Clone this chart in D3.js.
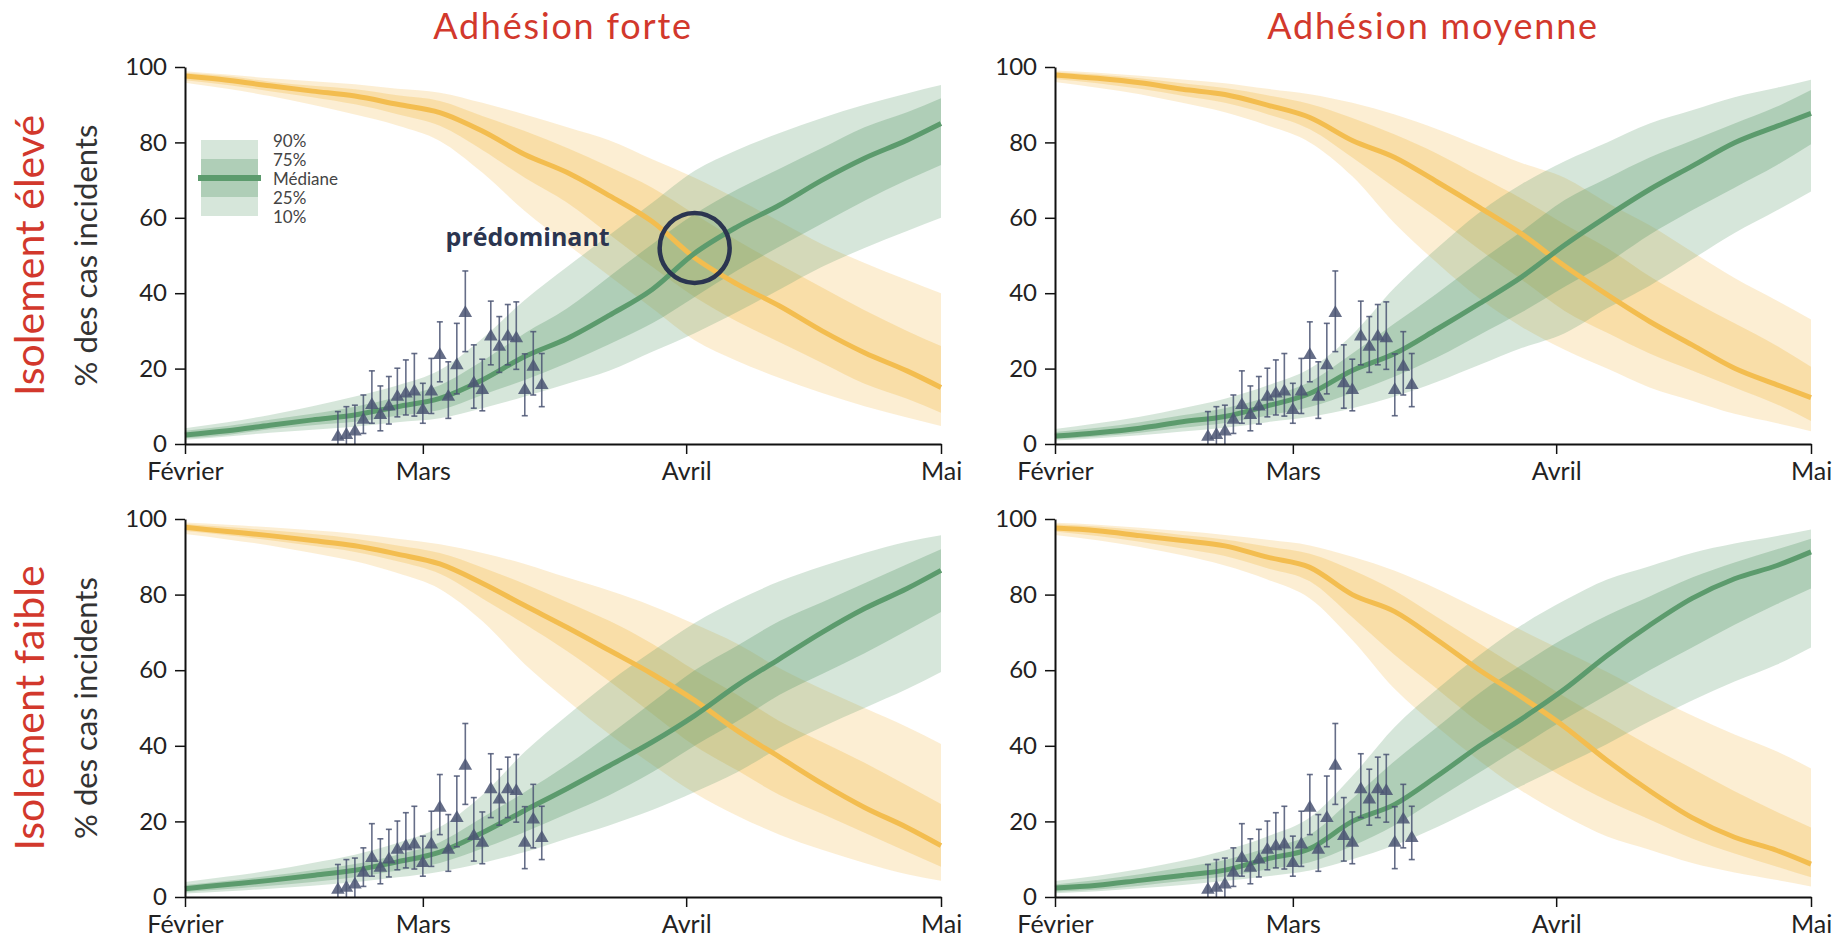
<!DOCTYPE html>
<html lang="fr">
<head>
<meta charset="utf-8">
<title>Variant prédominant</title>
<script src="https://cdn.jsdelivr.net/npm/d3@7"></script>
<style>
body { margin: 0; background: #fff; }
svg { display: block; font-family: Lato, "Open Sans", sans-serif; }
.axis path { stroke: #111; stroke-width: 2px; }
.axis line { stroke: #111; stroke-width: 1.5px; }
.axis text { fill: #222; font-family: Lato, sans-serif; }
</style>
</head>
<body>
<script>
(function() {

"use strict";

const COL_TITLES = ["Adhésion forte", "Adhésion moyenne"];
const ROW_TITLES = ["Isolement élevé", "Isolement faible"];
const Y_LABEL = "% des cas incidents";
const Y_TICKS = [0, 20, 40, 60, 80, 100];
const X_TICKS = ["2021-02-01", "2021-03-01", "2021-04-01", "2021-05-01"];
const X_TICK_LABELS = ["Février", "Mars", "Avril", "Mai"];
const LEGEND_LABELS = ["90%", "75%", "Médiane", "25%", "10%"];
const NOTE = "prédominant";

// sampled dates of the model curves
const DATES = [
	"2021-02-01", "2021-02-06", "2021-02-11", "2021-02-16", "2021-02-21", "2021-02-26", "2021-03-03",
	"2021-03-08", "2021-03-13", "2021-03-18", "2021-03-23", "2021-03-28", "2021-04-02", "2021-04-07",
	"2021-04-12", "2021-04-17", "2021-04-22", "2021-04-27", "2021-05-01",
];

// adhésion forte / isolement élevé
const G_FE_P10 = [1.1, 2, 3, 3.8, 4.6, 5.8, 6.8, 9.5, 12.6, 16, 19.5, 24.5, 29.4, 35, 41, 47, 52, 56.5, 60];
const G_FE_P25 = [1.5, 2.4, 3.9, 5, 5.9, 7.5, 9, 13, 17, 21.5, 26.5, 32, 39, 46, 52.4, 58.5, 64.5, 70, 74];
const G_FE_MED = [2.4, 3.5, 5, 6.4, 7.7, 9.9, 12.1, 17, 23.2, 28, 34.2, 41, 50.6, 57.6, 63.4, 70, 75.8, 80.6, 85];
const G_FE_P75 = [3.5, 4.8, 6.4, 8, 9.9, 12.5, 15.6, 22, 29.4, 36, 44.5, 53, 61, 67.5, 73, 78.5, 84, 88, 91.7];
const G_FE_P90 = [4.2, 5.8, 7.7, 10, 12.6, 15.5, 19.6, 28, 38.2, 47, 55.5, 64, 72.5, 78, 82.5, 86.5, 90, 93, 95.2];
const Y_FE_P10 = [95.8, 94.2, 92.3, 90, 87.4, 84.5, 80.4, 72, 61.8, 53, 44.5, 36, 27.5, 22, 17.5, 13.5, 10, 7, 4.8];
const Y_FE_P25 = [96.5, 95.2, 93.6, 92, 90.1, 87.5, 84.4, 78, 70.6, 64, 55.5, 47, 39, 32.5, 27, 21.5, 16, 12, 8.3];
const Y_FE_MED = [97.6, 96.5, 95, 93.6, 92.3, 90.1, 87.9, 83, 76.8, 72, 65.8, 59, 49.4, 42.4, 36.6, 30, 24.2, 19.4, 15];
const Y_FE_P75 = [98.5, 97.6, 96.1, 95, 94.1, 92.5, 91, 87, 83, 78.5, 73.5, 68, 61, 54, 47.6, 41.5, 35.5, 30, 26];
const Y_FE_P90 = [98.9, 98, 97, 96.2, 95.4, 94.2, 93.2, 90.5, 87.4, 84, 80.5, 75.5, 70.6, 65, 59, 53, 48, 43.5, 40];

// adhésion moyenne / isolement élevé
const G_ME_P10 = [0.9, 1.5, 2.3, 3.3, 4.3, 5.8, 7.2, 9.5, 12.6, 16.5, 21, 25.5, 29.4, 36, 42, 49, 56, 62, 67];
const G_ME_P25 = [1.3, 2, 3, 4.3, 5.6, 7.5, 9.8, 13.5, 17.9, 23, 29, 35, 41.7, 48, 55.5, 62, 68, 74, 79.5];
const G_ME_MED = [2.1, 3, 4.2, 5.9, 7.3, 10.1, 13.4, 19.5, 24, 30.5, 37.3, 44.4, 52.8, 60.4, 67.5, 73.7, 79.9, 84.3, 87.7];
const G_ME_P75 = [3.2, 4.3, 5.8, 7.6, 9.5, 12.5, 16.5, 24, 32, 40, 48.5, 56.5, 64.7, 70.5, 76, 80.5, 85, 89.5, 93.9];
const G_ME_P90 = [4, 5.5, 7.2, 9.5, 12, 15.5, 20, 29, 41.5, 52, 61.5, 69, 75, 80, 85, 88.5, 92, 94.5, 96.6];
const Y_ME_P10 = [96, 94.5, 92.8, 90.5, 88, 84.5, 80, 71, 58.5, 48, 38.5, 31, 25, 20, 15, 11.5, 8, 5.5, 3.4];
const Y_ME_P25 = [96.8, 95.7, 94.2, 92.4, 90.5, 87.5, 83.5, 76, 68, 60, 51.5, 43.5, 35.3, 29.5, 24, 19.5, 15, 10.5, 6.1];
const Y_ME_MED = [97.9, 97, 95.8, 94.1, 92.7, 89.9, 86.6, 80.5, 76, 69.5, 62.7, 55.6, 47.2, 39.6, 32.5, 26.3, 20.1, 15.7, 12.3];
const Y_ME_P75 = [98.7, 98, 97, 95.7, 94.4, 92.5, 90.2, 86.5, 82.1, 77, 71, 65, 58.3, 52, 44.5, 38, 32, 26, 20.5];
const Y_ME_P90 = [99.1, 98.5, 97.7, 96.7, 95.7, 94.2, 92.8, 90.5, 87.4, 83.5, 79, 74.5, 70.6, 64, 58, 51, 44, 38, 33];

// adhésion forte / isolement faible
const G_FF_P10 = [0.9, 1.5, 2.2, 3, 3.9, 5.2, 6.7, 9, 11.9, 15.5, 19, 23, 27.8, 33, 39.5, 45, 50, 55, 59.5];
const G_FF_P25 = [1.3, 2.1, 3, 4, 5.2, 7, 9, 12.8, 17.2, 22, 27, 33, 40, 46.5, 53.5, 59, 64.5, 70.5, 75.4];
const G_FF_MED = [2.2, 3.3, 4.4, 5.7, 7.1, 9.3, 11.9, 17, 22.9, 28.7, 34.8, 41, 48, 56, 63, 70, 76.3, 81.6, 86.4];
const G_FF_P75 = [3.2, 4.3, 5.6, 7.1, 8.7, 11.2, 14.5, 21, 27.8, 35, 43, 51.5, 60, 66.5, 73, 78, 83, 88, 92];
const G_FF_P90 = [4, 5.4, 7, 9, 11.2, 14.3, 18.5, 27, 38.4, 48, 57, 65, 72.5, 78.5, 83.5, 87.5, 91, 94, 95.7];
const Y_FF_P10 = [96, 94.6, 93, 91, 88.8, 85.7, 81.5, 73, 61.6, 52, 43, 35, 27.5, 21.5, 16.5, 12.5, 9, 6, 4.3];
const Y_FF_P25 = [96.8, 95.7, 94.4, 92.9, 91.3, 88.8, 85.5, 79, 72.2, 65, 57, 48.5, 40, 33.5, 27, 22, 17, 12, 8];
const Y_FF_MED = [97.8, 96.7, 95.6, 94.3, 92.9, 90.7, 88.1, 83, 77.1, 71.3, 65.2, 59, 52, 44, 37, 30, 23.7, 18.4, 13.6];
const Y_FF_P75 = [98.7, 97.9, 97, 96, 94.8, 93, 91, 87.2, 82.8, 78, 73, 67, 60, 53.5, 46.5, 41, 35.5, 29.5, 24.6];
const Y_FF_P90 = [99.1, 98.5, 97.8, 97, 96.1, 94.8, 93.3, 91, 88.1, 84.5, 81, 77, 72.2, 67, 60.5, 55, 50, 45, 40.5];

// adhésion moyenne / isolement faible
const G_MF_P10 = [1, 1.5, 2.3, 3.2, 4.2, 5.5, 7, 10, 13.7, 18.5, 24, 29.5, 35, 40.5, 46.5, 52, 57, 61.5, 66];
const G_MF_P25 = [1.4, 2, 3, 4.2, 5.4, 7.3, 9.2, 13.5, 19, 26, 33, 40, 47, 53.5, 60, 66, 72, 77.5, 81.6];
const G_MF_MED = [2.4, 3.1, 4.4, 5.7, 7.1, 10.1, 12.8, 20, 24.5, 32, 40, 47.2, 55, 63.9, 71.9, 79, 84.2, 87.7, 91.3];
const G_MF_P75 = [3.3, 4.5, 6, 7.8, 9.8, 13, 16.5, 26, 36, 45, 54, 61.5, 68.5, 74.5, 79.5, 84.5, 88.5, 92, 94.8];
const G_MF_P90 = [4.2, 5.6, 7.4, 9.6, 12.3, 16, 21, 32, 45, 55, 64, 72, 78.5, 84, 87.5, 91, 93.5, 95.5, 97.2];
const Y_MF_P10 = [95.8, 94.4, 92.6, 90.4, 87.7, 84, 79, 68, 55, 45, 36, 28, 21.5, 16, 12.5, 9, 6.5, 4.5, 2.8];
const Y_MF_P25 = [96.7, 95.5, 94, 92.2, 90.2, 87, 83.5, 74, 64, 55, 46, 38.5, 31.5, 25.5, 20.5, 15.5, 11.5, 8, 5.2];
const Y_MF_MED = [97.6, 96.9, 95.6, 94.3, 92.9, 89.9, 87.2, 80, 75.5, 68, 60, 52.8, 45, 36.1, 28.1, 21, 15.8, 12.3, 8.7];
const Y_MF_P75 = [98.6, 98, 97, 95.8, 94.6, 92.7, 90.8, 86.5, 81, 74, 67, 60, 53, 46.5, 40, 34, 28, 22.5, 18.4];
const Y_MF_P90 = [99, 98.5, 97.7, 96.8, 95.8, 94.5, 93, 90, 86.3, 81.5, 76, 70.5, 65, 59.5, 53.5, 48, 43, 38.5, 34];

// observed share with its interval (same in every panel)
const OBS_DATES = [
	"2021-02-19", "2021-02-20", "2021-02-21", "2021-02-22", "2021-02-23", "2021-02-24", "2021-02-25",
	"2021-02-26", "2021-02-27", "2021-02-28", "2021-03-01", "2021-03-02", "2021-03-03", "2021-03-04",
	"2021-03-05", "2021-03-06", "2021-03-07", "2021-03-08", "2021-03-09", "2021-03-10", "2021-03-11",
	"2021-03-12", "2021-03-13", "2021-03-14", "2021-03-15",
];
const OBS_VALUE = [1.9, 2.4, 3.3, 6.4, 10.3, 7.7, 9.9, 12.5, 13.4, 13.9, 9, 13.9, 23.6, 12.5, 20.9, 34.7, 16.1, 14.3, 28.5, 25.8, 28.5, 28, 14.3, 20.5, 15.6];
const OBS_LOW = [0, 0, 0, 2.8, 5.5, 3.5, 5.3, 7.2, 7.7, 7.4, 5.5, 8.1, 16.5, 6.8, 13.3, 24.5, 9.5, 8.8, 21, 19, 21, 19.8, 7.5, 13, 9.9];
const OBS_HIGH = [8.6, 9.9, 10.3, 13, 19.4, 15.4, 17.9, 20.1, 22.3, 24, 16.1, 22.7, 32.4, 21.8, 32, 45.9, 26.3, 22.5, 37.9, 33.8, 37, 37.7, 23.9, 29.8, 24];

// where the median curves cross in the first panel
const NOTE_DATE = "2021-04-02";
const NOTE_VALUE = 52;
const NOTE_TEXT_DATE = "2021-03-23";
const NOTE_TEXT_VALUE = 52.5;

const GREEN = "#5c9b6d";
const YELLOW = "#f3bd4f";
const MARKER = "#4b5573";
const RED = "#d2382c";

const parse = d3.utcParse("%Y-%m-%d");

function drawBands(g, scale, dates, band, color) {
	let area = (lo, hi) => d3.area()
		.curve(d3.curveMonotoneX)
		.x((d, i) => scale.x(dates[i]))
		.y0((d, i) => scale.y(lo[i]))
		.y1((d, i) => scale.y(hi[i]));

	g.append("path")
		.datum(dates)
		.attr("d", area(band.p10, band.p90))
		.attr("fill", color)
		.attr("fill-opacity", 0.25);

	g.append("path")
		.datum(dates)
		.attr("d", area(band.p25, band.p75))
		.attr("fill", color)
		.attr("fill-opacity", 0.32);
}

function drawMedian(g, scale, dates, values, color) {
	let line = d3.line()
		.curve(d3.curveMonotoneX)
		.x((d, i) => scale.x(dates[i]))
		.y((d, i) => scale.y(values[i]));

	g.append("path")
		.datum(dates)
		.attr("d", line)
		.attr("fill", "none")
		.attr("stroke", color)
		.attr("stroke-width", 5)
		.attr("stroke-linejoin", "round");
}

function drawObserved(g, scale) {
	let obs = OBS_DATES.map((d, i) => ({
		date: parse(d),
		value: OBS_VALUE[i],
		low: OBS_LOW[i],
		high: OBS_HIGH[i],
	}));

	let bars = g.append("g")
		.attr("stroke", MARKER)
		.attr("stroke-width", 1.6)
		.attr("stroke-opacity", 0.85);

	bars.selectAll(".whisker")
		.data(obs)
		.join("line")
			.attr("x1", d => scale.x(d.date))
			.attr("x2", d => scale.x(d.date))
			.attr("y1", d => scale.y(d.low))
			.attr("y2", d => scale.y(d.high));

	for (let key of ["low", "high"]) {
		bars.selectAll(".cap-" + key)
			.data(obs.filter(d => d[key] > 0))
			.join("line")
				.attr("x1", d => scale.x(d.date) - 3)
				.attr("x2", d => scale.x(d.date) + 3)
				.attr("y1", d => scale.y(d[key]))
				.attr("y2", d => scale.y(d[key]));
	}

	g.append("g")
		.selectAll("path")
		.data(obs)
		.join("path")
			.attr("transform", d => `translate(${scale.x(d.date)}, ${scale.y(d.value)})`)
			.attr("d", d3.symbol(d3.symbolTriangle, 80))
			.attr("fill", MARKER)
			.attr("fill-opacity", 0.85);
}

function drawLegend(g) {
	let legend = g.append("g").attr("transform", "translate(16, 73)");

	legend.append("rect")
		.attr("width", 57).attr("height", 76)
		.attr("fill", GREEN).attr("fill-opacity", 0.25);
	legend.append("rect")
		.attr("y", 19).attr("width", 57).attr("height", 38)
		.attr("fill", GREEN).attr("fill-opacity", 0.32);
	legend.append("line")
		.attr("x1", -3).attr("x2", 60)
		.attr("y1", 38).attr("y2", 38)
		.attr("stroke", GREEN).attr("stroke-width", 6);

	legend.selectAll("text")
		.data(LEGEND_LABELS)
		.join("text")
			.attr("x", 72)
			.attr("y", (d, i) => 1 + i * 19)
			.attr("dy", "0.35em")
			.attr("font-size", 17)
			.attr("fill", "#444")
			.text(d => d);
}

function drawPanel(svg, panel, options = {}) {
	let scale = {
		x: d3.scaleUtc()
			.domain([parse(X_TICKS[0]), parse(X_TICKS[X_TICKS.length - 1])])
			.range([0, options.width]),
		y: d3.scaleLinear().domain([0, 100]).range([options.height, 0]),
	};
	let dates = DATES.map(parse);

	let g = svg.append("g")
		.attr("transform", `translate(${options.left}, ${options.top})`);

	drawBands(g, scale, dates, panel.yellow, YELLOW);
	drawBands(g, scale, dates, panel.green, GREEN);
	drawMedian(g, scale, dates, panel.yellow.med, YELLOW);
	drawMedian(g, scale, dates, panel.green.med, GREEN);
	drawObserved(g, scale);

	g.append("g")
		.attr("class", "axis x")
		.attr("transform", `translate(0, ${options.height})`)
		.call(d3.axisBottom(scale.x)
			.tickValues(X_TICKS.map(parse))
			.tickFormat((d, i) => X_TICK_LABELS[i])
			.tickSize(10)
			.tickPadding(8)
			.tickSizeOuter(0))
		.call(a => a.selectAll("text").attr("font-size", 25));

	g.append("g")
		.attr("class", "axis y")
		.call(d3.axisLeft(scale.y)
			.tickValues(Y_TICKS)
			.tickSize(10)
			.tickPadding(8)
			.tickSizeOuter(0))
		.call(a => a.selectAll("text").attr("font-size", 24));

	if (panel.note) {
		drawLegend(g);

		g.append("circle")
			.attr("cx", scale.x(parse(NOTE_DATE)))
			.attr("cy", scale.y(NOTE_VALUE))
			.attr("r", 35)
			.attr("fill", "none")
			.attr("stroke", "#2b3550")
			.attr("stroke-width", 4.5);

		g.append("text")
			.attr("x", scale.x(parse(NOTE_TEXT_DATE)))
			.attr("y", scale.y(NOTE_TEXT_VALUE))
			.attr("text-anchor", "end")
			.attr("font-family", "'Open Sans', sans-serif")
			.attr("font-weight", 700)
			.attr("font-size", 25)
			.attr("fill", "#2b3550")
			.text(NOTE);
	}

	if (panel.col === 0) {
		svg.append("text")
			.attr("transform", `translate(86, ${options.top + options.height / 2}) rotate(-90)`)
			.attr("text-anchor", "middle")
			.attr("dy", "0.35em")
			.attr("font-size", 31)
			.attr("fill", "#333")
			.text(Y_LABEL);

		svg.append("text")
			.attr("transform", `translate(30, ${options.top + options.height / 2}) rotate(-90)`)
			.attr("text-anchor", "middle")
			.attr("dy", "0.35em")
			.attr("font-size", 41)
			.attr("fill", RED)
			.text(ROW_TITLES[panel.row]);
	}

	if (panel.row === 0) {
		svg.append("text")
			.attr("x", options.left + options.width / 2)
			.attr("y", 39)
			.attr("text-anchor", "middle")
			.attr("font-size", 36)
			.attr("letter-spacing", 1.8)
			.attr("fill", RED)
			.text(COL_TITLES[panel.col]);
	}
}

let band = (p10, p25, med, p75, p90) => ({p10, p25, med, p75, p90});

let panels = [
	{row: 0, col: 0, note: true,
		green: band(G_FE_P10, G_FE_P25, G_FE_MED, G_FE_P75, G_FE_P90),
		yellow: band(Y_FE_P10, Y_FE_P25, Y_FE_MED, Y_FE_P75, Y_FE_P90)},
	{row: 0, col: 1,
		green: band(G_ME_P10, G_ME_P25, G_ME_MED, G_ME_P75, G_ME_P90),
		yellow: band(Y_ME_P10, Y_ME_P25, Y_ME_MED, Y_ME_P75, Y_ME_P90)},
	{row: 1, col: 0,
		green: band(G_FF_P10, G_FF_P25, G_FF_MED, G_FF_P75, G_FF_P90),
		yellow: band(Y_FF_P10, Y_FF_P25, Y_FF_MED, Y_FF_P75, Y_FF_P90)},
	{row: 1, col: 1,
		green: band(G_MF_P10, G_MF_P25, G_MF_MED, G_MF_P75, G_MF_P90),
		yellow: band(Y_MF_P10, Y_MF_P25, Y_MF_MED, Y_MF_P75, Y_MF_P90)},
];

let svg = d3.select(document.body).append("svg")
	.attr("width", 1840)
	.attr("height", 938)
	.attr("viewBox", "0 0 1840 938");

for (let panel of panels) {
	drawPanel(svg, panel, {
		left: [185, 1055][panel.col],
		top: [67, 519][panel.row],
		width: 756,
		height: [377, 378][panel.row],
	});
}

})();
</script>
</body>
</html>
